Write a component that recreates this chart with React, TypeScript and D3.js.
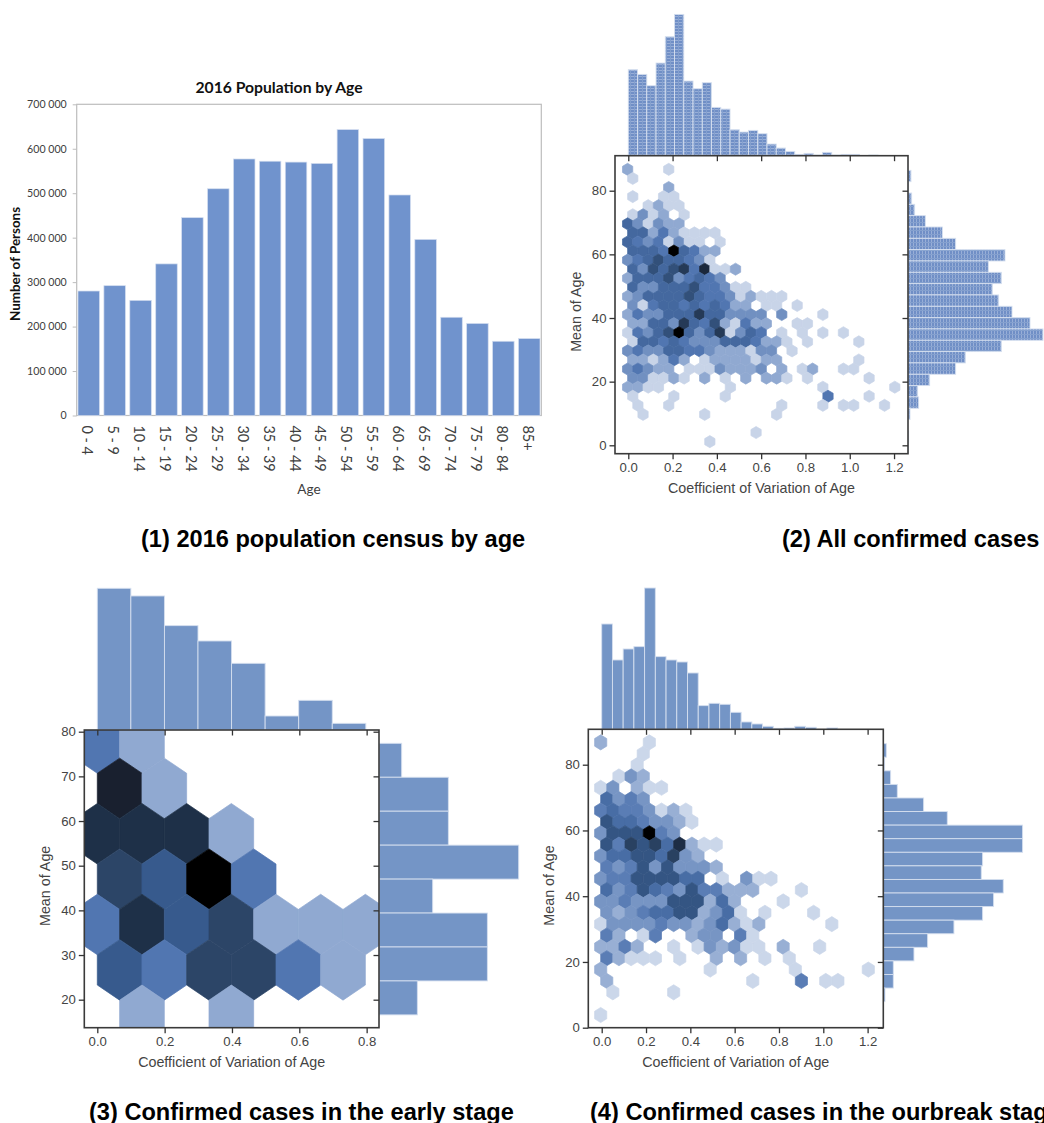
import React, { useEffect, useRef } from 'react';
import * as d3 from 'd3';

// 2016 census bars
const ageGroups = ['0 - 4', '5 - 9', '10 - 14', '15 - 19', '20 - 24', '25 - 29', '30 - 34', '35 - 39', '40 - 44', '45 - 49', '50 - 54', '55 - 59', '60 - 64', '65 - 69', '70 - 74', '75 - 79', '80 - 84', '85+'];
const population = [280000, 292000, 259000, 341000, 445000, 510000, 577000, 572000, 570000, 567000, 643000, 623000, 496000, 396000, 221000, 207000, 167000, 173000];
const populationTicks = [0, 100000, 200000, 300000, 400000, 500000, 600000, 700000];

// hexbin counts, one list per row from the top, odd rows sit half a bin to the right
const allHexCounts = [
  [2, 0, 0, 0, 1],
  [1],
  [0, 0, 0, 0, 2],
  [1, 0, 0, 1, 1],
  [0, 0, 1, 2, 1, 1],
  [1, 3, 1, 2, 0, 1],
  [5, 3, 1, 3, 2, 2],
  [5, 5, 2, 4, 2, 1, 1, 1, 1],
  [5, 4, 3, 4, 1, 3, 1, 1, 0, 1],
  [5, 5, 5, 4, 16, 5, 4, 2, 2],
  [3, 4, 5, 7, 5, 5, 4, 3, 1],
  [5, 3, 7, 5, 7, 9, 4, 11, 1, 1, 2],
  [2, 5, 5, 5, 7, 3, 4, 5, 4, 3],
  [5, 3, 3, 5, 5, 5, 7, 4, 4, 3, 1, 1],
  [2, 3, 5, 5, 5, 5, 7, 5, 4, 4, 3, 1, 2, 1, 1, 1],
  [3, 1, 4, 5, 5, 4, 5, 4, 5, 4, 2, 2, 0, 1, 1, 0, 1],
  [2, 4, 3, 3, 5, 5, 5, 9, 5, 5, 3, 3, 3, 3, 0, 3, 0, 0, 0, 1],
  [2, 2, 5, 5, 3, 9, 5, 4, 7, 2, 1, 4, 2, 2, 0, 0, 1, 1],
  [1, 4, 3, 5, 7, 16, 5, 3, 5, 9, 1, 3, 5, 4, 0, 1, 0, 1, 0, 1, 0, 1],
  [1, 5, 5, 4, 5, 4, 3, 3, 3, 5, 5, 5, 4, 2, 2, 1, 0, 1, 0, 0, 0, 0, 1],
  [3, 4, 3, 3, 5, 5, 4, 4, 3, 2, 2, 2, 1, 3, 3, 0, 1],
  [2, 2, 1, 2, 4, 2, 0, 1, 2, 2, 2, 2, 1, 2, 2, 0, 0, 0, 0, 0, 0, 0, 1],
  [3, 4, 3, 2, 2, 0, 1, 1, 1, 3, 2, 2, 2, 3, 0, 2, 0, 1, 2, 0, 0, 1, 1],
  [3, 3, 1, 1, 2, 1, 0, 2, 0, 1, 0, 2, 0, 2, 2, 1, 0, 1, 0, 0, 0, 0, 0, 1],
  [2, 2, 1, 1, 0, 0, 0, 0, 0, 0, 1, 0, 0, 0, 0, 0, 0, 0, 0, 1, 0, 0, 0, 0, 0, 0, 1],
  [1, 0, 0, 0, 1, 0, 0, 0, 0, 1, 0, 0, 0, 0, 0, 0, 0, 0, 0, 4, 0, 0, 0, 1],
  [0, 1, 0, 0, 1, 0, 0, 0, 0, 0, 0, 0, 0, 0, 0, 1, 0, 0, 0, 1, 0, 1, 1, 0, 0, 1],
  [0, 1, 0, 0, 0, 0, 0, 1, 0, 0, 0, 0, 0, 0, 1],
  [],
  [0, 0, 0, 0, 0, 0, 0, 0, 0, 0, 0, 0, 1],
  [0, 0, 0, 0, 0, 0, 0, 0, 1],
];
const allCvCounts = [258, 244, 210, 278, 357, 424, 224, 201, 219, 145, 140, 78, 71, 76, 66, 35, 23, 13, 4, 7, 2, 10, 2, 4, 4, 0, 2];
const allAgeCounts = [9, 2, 11, 20, 52, 103, 143, 291, 241, 280, 253, 272, 312, 366, 405, 280, 172, 143, 65, 29, 32, 6, 0, 2, 1];

const earlyHexCounts = [
  [2, 1],
  [6, 1],
  [5, 5, 5, 1],
  [4, 3, 7, 2],
  [2, 5, 3, 4, 1, 1, 1],
  [3, 2, 4, 4, 2, 1],
  [0, 1, 0, 1],
];
const earlyCvCounts = [425, 402, 313, 267, 200, 42, 89, 20];
const earlyAgeCounts = [68, 208, 208, 419, 161, 325, 325, 115];

const outbreakHexCounts = [
  [2, 0, 0, 0, 1],
  [0, 0, 0, 1],
  [0, 0, 0, 1],
  [0, 1, 3, 2],
  [1, 3, 0, 2, 1, 1],
  [5, 3, 4, 3],
  [4, 5, 4, 4, 3, 1, 2, 1],
  [7, 5, 5, 4, 3, 3, 2, 1],
  [3, 7, 7, 7, 16, 4, 3],
  [7, 4, 9, 7, 9, 5, 11, 2, 1, 1],
  [3, 5, 5, 7, 7, 5, 9, 3, 2],
  [4, 3, 4, 7, 3, 7, 3, 3, 3, 2],
  [3, 4, 4, 7, 7, 7, 7, 5, 5, 0, 1, 0, 3, 1, 1],
  [5, 3, 4, 7, 5, 4, 3, 7, 4, 4, 2, 2, 2, 0, 0, 0, 1],
  [3, 3, 4, 3, 3, 3, 7, 7, 7, 2, 5, 2, 0, 0, 0, 1],
  [3, 2, 3, 4, 5, 5, 7, 7, 2, 3, 5, 1, 0, 1, 0, 0, 0, 1],
  [1, 3, 3, 3, 3, 4, 3, 3, 2, 3, 5, 2, 1, 2, 0, 0, 0, 0, 0, 1],
  [4, 2, 0, 1, 4, 0, 0, 2, 3, 3, 0, 4, 1],
  [2, 2, 4, 2, 0, 0, 1, 0, 1, 3, 2, 3, 1, 1, 0, 2, 0, 0, 1],
  [4, 2, 1, 1, 1, 0, 1, 0, 0, 2, 0, 2, 0, 1, 0, 1],
  [2, 0, 0, 0, 0, 0, 0, 0, 0, 1, 0, 0, 0, 0, 0, 0, 1, 0, 0, 0, 0, 0, 1],
  [2, 0, 0, 0, 0, 0, 0, 0, 0, 0, 0, 0, 1, 0, 0, 0, 4, 0, 1, 1],
  [0, 1, 0, 0, 0, 0, 1],
  [],
  [1],
];
const outbreakCvCounts = [316, 208, 241, 248, 424, 218, 208, 202, 169, 71, 78, 75, 51, 22, 16, 9, 3, 4, 9, 6, 0, 4];
const outbreakAgeCounts = [9, 4, 22, 42, 121, 192, 418, 418, 298, 294, 360, 331, 298, 212, 133, 92, 30, 30, 5];

const cvTicksWide = [0, 0.2, 0.4, 0.6, 0.8, 1.0, 1.2];
const cvTicksEarly = [0, 0.2, 0.4, 0.6, 0.8];
const ageTicksWide = [0, 20, 40, 60, 80];
const ageTicksEarly = [20, 30, 40, 50, 60, 70, 80];

const BAR = '#7495c6';
const SANS = '"Liberation Sans", Arial, sans-serif';
const CALIBRI = 'Lato, "Open Sans", sans-serif';

// count / max -> colour, white through the seaborn blue down to black
const hexColor = d3
  .scaleLinear<string>()
  .domain([0, 0.143, 0.286, 0.43, 0.57, 0.71, 0.857, 1])
  .range(['#ffffff', '#90a9d1', '#5176b1', '#375a8d', '#2c4567', '#1e3049', '#19202f', '#000000'])
  .clamp(true);

const spaced = d3.formatLocale({ decimal: '.', thousands: ' ', grouping: [3], currency: ['', ''] }).format(',');

function CensusChart() {
  const left = 76.7, right = 541.3, top = 104.3, bottom = 415.5;
  const x = d3.scaleBand().domain(ageGroups).range([left, right]).paddingInner(0.17).paddingOuter(0.05);
  const y = d3.scaleLinear().domain([0, 700000]).range([bottom, top]);
  const yRef = useRef<SVGGElement>(null);

  useEffect(() => {
    const g = d3.select(yRef.current);
    g.call(d3.axisLeft(y).tickValues(populationTicks).tickSize(4).tickPadding(6).tickFormat((d) => spaced(d as number)) as any);
    g.select('.domain').remove();
    g.selectAll('line').attr('stroke', '#bdbdbd');
    g.selectAll('text').attr('fill', '#404040').attr('font-size', 10.6).attr('font-family', CALIBRI);
  }, []);

  return (
    <g>
      <text x={279} y={93} textAnchor="middle" fontFamily={CALIBRI} fontWeight={700} fontSize={15.7} fill="#111">2016 Population by Age</text>
      <rect x={left} y={top} width={right - left} height={bottom - top} fill="none" stroke="#bdbdbd" strokeWidth={1.2} />
      {population.map((v, i) => (
        <rect key={i} x={x(ageGroups[i])} y={y(v)} width={x.bandwidth()} height={y(0) - y(v)} fill="#7093cd" stroke="#d3ddef" strokeWidth={0.7} />
      ))}
      <g ref={yRef} transform={`translate(${left},0)`} />
      {ageGroups.map((a) => (
        <text key={a} transform={`translate(${x(a)! + x.bandwidth() / 2 - 6.5},${bottom + 10}) rotate(90)`} fontFamily={CALIBRI} fontSize={14.4} fill="#404040">{a}</text>
      ))}
      <text x={309} y={494} textAnchor="middle" fontFamily={CALIBRI} fontSize={13.6} fill="#404040">Age</text>
      <text transform="translate(20,264) rotate(-90)" textAnchor="middle" fontFamily={CALIBRI} fontWeight={700} fontSize={13.4} fill="#111">Number of Persons</text>
    </g>
  );
}

type PanelProps = {
  id: string;
  box: [number, number, number, number]; // left, top, right, bottom in px
  xDomain: [number, number];
  yDomain: [number, number];
  xTicks: number[];
  yTicks: number[];
  hexCounts: number[][];
  hexX0: number;
  hexDx: number;
  hexY0: number;
  hexDy: number;
  hexMax: number;
  cvCounts: number[];
  cvStart: number;
  cvStep: number;
  cvHeight: number;
  ageCounts: number[];
  ageStart: number;
  ageStep: number;
  ageWidth: number;
  topFill: string;
  sideFill: string;
};

function JointPanel(p: PanelProps) {
  const [l, t, r, b] = p.box;
  const x = d3.scaleLinear().domain(p.xDomain).range([l, r]);
  const y = d3.scaleLinear().domain(p.yDomain).range([b, t]);
  const topY = d3.scaleLinear().domain([0, d3.max(p.cvCounts)!]).range([t, t - p.cvHeight]);
  const sideX = d3.scaleLinear().domain([0, d3.max(p.ageCounts)!]).range([r, r + p.ageWidth]);
  const axes = useRef<SVGGElement>(null);

  useEffect(() => {
    const g = d3.select(axes.current);
    g.selectAll('*').remove();
    const bottomFmt = (d: any) => d3.format('.1f')(d);
    g.append('g').attr('transform', `translate(0,${b})`).call(d3.axisBottom(x).tickValues(p.xTicks).tickSize(5.5).tickPadding(3).tickFormat(bottomFmt) as any);
    g.append('g').attr('transform', `translate(${l},0)`).call(d3.axisLeft(y).tickValues(p.yTicks).tickSize(5.5).tickPadding(3).tickFormat(d3.format('d') as any) as any);
    g.append('g').attr('transform', `translate(0,${t})`).call(d3.axisTop(x).tickValues(p.xTicks).tickSize(-5.5).tickFormat(() => '') as any);
    g.append('g').attr('transform', `translate(${r},0)`).call(d3.axisRight(y).tickValues(p.yTicks).tickSize(-5.5).tickFormat(() => '') as any);
    g.selectAll('.domain').remove();
    g.selectAll('line').attr('stroke', '#333').attr('stroke-width', 1.3);
    g.selectAll('text').attr('fill', '#444').attr('font-size', 13.2).attr('font-family', SANS);
  }, []);

  // pointy-top hexagon, matplotlib stretches it to the bin sizes
  const hexPath = (cx: number, cy: number) =>
    d3.line().curve(d3.curveLinearClosed)([
      [x(cx), y(cy + (p.hexDy * 2) / 3)],
      [x(cx + p.hexDx / 2), y(cy + p.hexDy / 3)],
      [x(cx + p.hexDx / 2), y(cy - p.hexDy / 3)],
      [x(cx), y(cy - (p.hexDy * 2) / 3)],
      [x(cx - p.hexDx / 2), y(cy - p.hexDy / 3)],
      [x(cx - p.hexDx / 2), y(cy + p.hexDy / 3)],
    ])!;

  return (
    <g>
      <clipPath id={`clip-${p.id}`}>
        <rect x={l} y={t} width={r - l} height={b - t} />
      </clipPath>
      {p.cvCounts.map((v, i) =>
        v > 0 ? (
          <rect key={i} x={x(p.cvStart + i * p.cvStep)} y={topY(v)} width={x(p.cvStep) - x(0)} height={t - topY(v)} fill={p.topFill} stroke="#d5dfef" strokeWidth={0.9} />
        ) : null
      )}
      {p.ageCounts.map((v, i) =>
        v > 0 ? (
          <rect key={i} x={r} y={y(p.ageStart - i * p.ageStep)} width={sideX(v) - r} height={y(0) - y(p.ageStep)} fill={p.sideFill} stroke="#d5dfef" strokeWidth={0.9} />
        ) : null
      )}
      <rect x={l} y={t} width={r - l} height={b - t} fill="#fff" />
      <g clipPath={`url(#clip-${p.id})`}>
        {p.hexCounts.map((row, ri) =>
          row.map((c, ci) =>
            c > 0 ? (
              <path
                key={`${ri}-${ci}`}
                d={hexPath(p.hexX0 + (ci + (ri % 2) / 2) * p.hexDx, p.hexY0 - ri * p.hexDy)}
                fill={hexColor(c / p.hexMax)}
                stroke={hexColor(c / p.hexMax)}
                strokeWidth={0.7}
              />
            ) : null
          )
        )}
      </g>
      <rect x={l} y={t} width={r - l} height={b - t} fill="none" stroke="#3a3a3a" strokeWidth={1.6} />
      <g ref={axes} />
      <text x={(l + r) / 2} y={b + 39} textAnchor="middle" fontFamily={SANS} fontSize={14.3} fill="#444">Coefficient of Variation of Age</text>
      <text transform={`translate(${l - 34},${(t + b) / 2 + 7}) rotate(-90)`} textAnchor="middle" fontFamily={SANS} fontSize={14.3} fill="#444">Mean of Age</text>
    </g>
  );
}

function App() {
  return (
    <svg width={1044} height={1123} style={{ position: 'absolute', left: 0, top: 0, display: 'block', background: '#fff' }}>
      <defs>
        <pattern id="texH" width={4} height={3} patternUnits="userSpaceOnUse">
          <rect width={4} height={3} fill="#708fc6" />
          <rect y={1} width={4} height={1} fill="#98aed7" />
          <rect x={2} width={1} height={3} fill="#84a0ce" />
        </pattern>
        <pattern id="texV" width={3} height={4} patternUnits="userSpaceOnUse">
          <rect width={3} height={4} fill="#708fc6" />
          <rect x={1} width={1} height={4} fill="#98aed7" />
          <rect y={2} width={3} height={1} fill="#84a0ce" />
        </pattern>
      </defs>

      <CensusChart />
      <JointPanel
        id="all"
        box={[615, 155.7, 908, 453.7]}
        xDomain={[-0.06, 1.263]}
        yDomain={[-2.64, 91]}
        xTicks={cvTicksWide}
        yTicks={ageTicksWide}
        hexCounts={allHexCounts}
        hexX0={-0.003}
        hexDx={0.0464}
        hexY0={86.71}
        hexDy={2.852}
        hexMax={14}
        cvCounts={allCvCounts}
        cvStart={0}
        cvStep={0.04176}
        cvHeight={141.3}
        ageCounts={allAgeCounts}
        ageStart={86.4}
        ageStep={3.56}
        ageWidth={135}
        topFill="url(#texH)"
        sideFill="url(#texV)"
      />
      <JointPanel
        id="early"
        box={[84.3, 730, 379, 1027.7]}
        xDomain={[-0.0386, 0.8367]}
        yDomain={[13.73, 80.38]}
        xTicks={cvTicksEarly}
        yTicks={ageTicksEarly}
        hexCounts={earlyHexCounts}
        hexX0={0}
        hexDx={0.1327}
        hexY0={77.47}
        hexDy={10.16}
        hexMax={7}
        cvCounts={earlyCvCounts}
        cvStart={0}
        cvStep={0.0997}
        cvHeight={141.7}
        ageCounts={earlyAgeCounts}
        ageStart={77.4}
        ageStep={7.6}
        ageWidth={139.7}
        topFill={BAR}
        sideFill={BAR}
      />
      <JointPanel
        id="outbreak"
        box={[588.3, 729.3, 883.3, 1027.7]}
        xDomain={[-0.0605, 1.2708]}
        yDomain={[0, 90.77]}
        xTicks={cvTicksWide}
        yTicks={ageTicksWide}
        hexCounts={outbreakHexCounts}
        hexX0={-0.0046}
        hexDx={0.0549}
        hexY0={86.8}
        hexDy={3.456}
        hexMax={15}
        cvCounts={outbreakCvCounts}
        cvStart={0}
        cvStep={0.0484}
        cvHeight={141.3}
        ageCounts={outbreakAgeCounts}
        ageStart={86.4}
        ageStep={4.13}
        ageWidth={139.3}
        topFill={BAR}
        sideFill={BAR}
      />

      <g fontFamily={SANS} fontWeight={700} fontSize={23.6} fill="#000">
        <text x={141} y={547}>(1) 2016 population census by age</text>
        <text x={782} y={547}>(2) All confirmed cases</text>
        <text x={89} y={1120}>(3) Confirmed cases in the early stage</text>
        <text x={590} y={1120}>(4) Confirmed cases in the ourbreak stage</text>
      </g>
    </svg>
  );
}

export default App;
